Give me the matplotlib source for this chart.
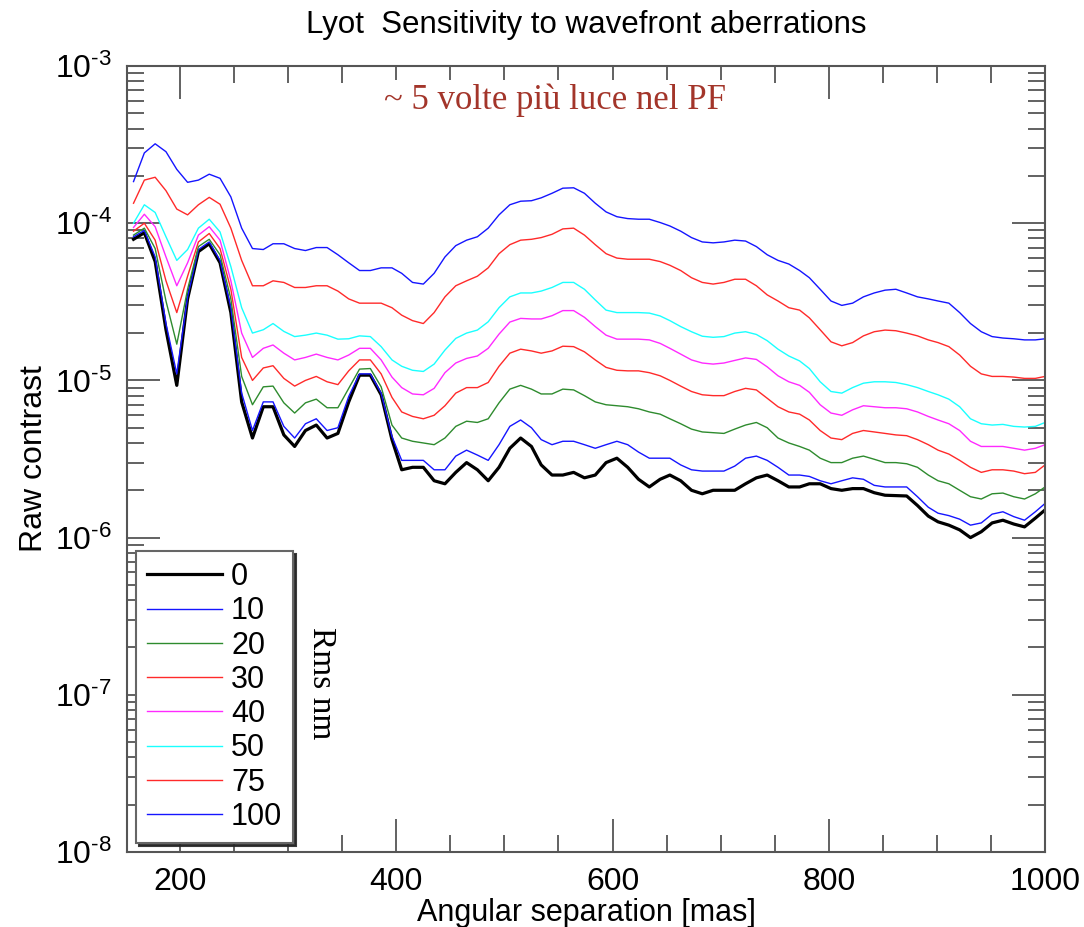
import matplotlib
matplotlib.use("Agg")
import math
import matplotlib.pyplot as plt
from matplotlib.ticker import MultipleLocator, LogLocator, NullFormatter, FuncFormatter

plt.rcParams['font.family'] = ['Liberation Sans', 'DejaVu Sans']
plt.rcParams['mathtext.fontset'] = 'custom'
plt.rcParams['mathtext.rm'] = 'Liberation Sans'
plt.rcParams['mathtext.default'] = 'regular'

# angular separation [mas]
sep = [157, 167, 177, 187, 197, 207, 217, 227, 237, 247,
       257, 267, 277, 286, 296, 306, 316, 326, 336, 346,
       356, 366, 376, 386, 396, 405, 415, 425, 435, 445,
       455, 465, 475, 485, 495, 505, 515, 525, 534, 544,
       554, 564, 574, 584, 594, 604, 614, 624, 634, 644,
       653, 663, 673, 683, 693, 703, 713, 723, 733, 743,
       753, 763, 773, 782, 792, 802, 812, 822, 832, 842,
       852, 862, 872, 882, 892, 901, 911, 921, 931, 941,
       951, 961, 971, 981, 991, 1000]

rms_labels = ["0", "10", "20", "30", "40", "50", "75", "100"]

rms0 = [7.9e-5, 8.7e-5, 5.7e-5, 2.1e-5, 9.3e-6, 3.3e-5, 6.6e-5, 7.4e-5, 5.6e-5, 2.7e-5,
        7.3e-6, 4.3e-6, 6.8e-6, 6.8e-6, 4.5e-6, 3.8e-6, 4.8e-6, 5.2e-6, 4.3e-6, 4.6e-6,
        7.3e-6, 1.08e-5, 1.08e-5, 8.1e-6, 4.2e-6, 2.7e-6, 2.8e-6, 2.8e-6, 2.3e-6, 2.2e-6,
        2.6e-6, 3.0e-6, 2.7e-6, 2.3e-6, 2.8e-6, 3.7e-6, 4.3e-6, 3.8e-6, 2.9e-6, 2.5e-6,
        2.5e-6, 2.6e-6, 2.4e-6, 2.5e-6, 3.0e-6, 3.2e-6, 2.8e-6, 2.35e-6, 2.1e-6, 2.35e-6,
        2.5e-6, 2.3e-6, 2.0e-6, 1.9e-6, 2.0e-6, 2.0e-6, 2.0e-6, 2.2e-6, 2.4e-6, 2.5e-6,
        2.3e-6, 2.1e-6, 2.1e-6, 2.2e-6, 2.2e-6, 2.05e-6, 2.0e-6, 2.05e-6, 2.05e-6, 1.93e-6,
        1.86e-6, 1.85e-6, 1.84e-6, 1.6e-6, 1.37e-6, 1.26e-6, 1.2e-6, 1.12e-6, 1.0e-6, 1.09e-6,
        1.24e-6, 1.29e-6, 1.22e-6, 1.17e-6, 1.33e-6, 1.5e-6]

rms10 = [8.2e-5, 9.0e-5, 6.1e-5, 2.3e-5, 1.1e-5, 3.4e-5, 6.8e-5, 7.6e-5, 5.8e-5, 2.9e-5,
         8.3e-6, 4.8e-6, 7.3e-6, 7.3e-6, 5.1e-6, 4.3e-6, 5.3e-6, 5.7e-6, 4.8e-6, 5.0e-6,
         7.9e-6, 1.1e-5, 1.1e-5, 8.3e-6, 4.4e-6, 3.1e-6, 3.1e-6, 3.1e-6, 2.7e-6, 2.7e-6,
         3.3e-6, 3.6e-6, 3.35e-6, 3.1e-6, 3.9e-6, 5.1e-6, 5.6e-6, 5.0e-6, 4.2e-6, 3.9e-6,
         4.1e-6, 4.1e-6, 3.9e-6, 3.7e-6, 3.9e-6, 4.1e-6, 3.9e-6, 3.5e-6, 3.2e-6, 3.2e-6,
         3.2e-6, 2.9e-6, 2.7e-6, 2.65e-6, 2.65e-6, 2.65e-6, 2.85e-6, 3.2e-6, 3.3e-6, 3.1e-6,
         2.8e-6, 2.5e-6, 2.5e-6, 2.45e-6, 2.3e-6, 2.2e-6, 2.3e-6, 2.4e-6, 2.35e-6, 2.15e-6,
         2.1e-6, 2.1e-6, 2.1e-6, 1.82e-6, 1.56e-6, 1.43e-6, 1.38e-6, 1.31e-6, 1.2e-6, 1.24e-6,
         1.41e-6, 1.46e-6, 1.36e-6, 1.29e-6, 1.46e-6, 1.65e-6]

rms20 = [8.4e-5, 9.3e-5, 6.9e-5, 3.2e-5, 1.7e-5, 3.8e-5, 7.1e-5, 7.9e-5, 6.3e-5, 3.3e-5,
         1.06e-5, 7.0e-6, 9.1e-6, 9.2e-6, 7.2e-6, 6.2e-6, 7.2e-6, 7.6e-6, 6.7e-6, 6.7e-6,
         8.9e-6, 1.18e-5, 1.19e-5, 9.1e-6, 5.2e-6, 4.3e-6, 4.1e-6, 4.0e-6, 3.9e-6, 4.3e-6,
         5.1e-6, 5.5e-6, 5.4e-6, 5.7e-6, 7.2e-6, 8.8e-6, 9.3e-6, 8.8e-6, 8.2e-6, 8.2e-6,
         8.8e-6, 8.7e-6, 8.0e-6, 7.3e-6, 7.0e-6, 6.9e-6, 6.8e-6, 6.6e-6, 6.3e-6, 6.1e-6,
         5.7e-6, 5.3e-6, 4.9e-6, 4.7e-6, 4.65e-6, 4.6e-6, 4.9e-6, 5.2e-6, 5.4e-6, 5.0e-6,
         4.3e-6, 4.0e-6, 3.8e-6, 3.6e-6, 3.2e-6, 3.0e-6, 3.0e-6, 3.2e-6, 3.3e-6, 3.15e-6,
         3.0e-6, 3.0e-6, 2.95e-6, 2.8e-6, 2.5e-6, 2.3e-6, 2.2e-6, 2.0e-6, 1.82e-6, 1.76e-6,
         1.9e-6, 1.92e-6, 1.82e-6, 1.76e-6, 1.9e-6, 2.1e-6]

rms30 = [8.9e-5, 1.0e-4, 7.8e-5, 4.3e-5, 2.7e-5, 4.6e-5, 7.6e-5, 8.6e-5, 6.9e-5, 3.8e-5,
         1.4e-5, 1.0e-5, 1.2e-5, 1.24e-5, 1.03e-5, 9.2e-6, 1.0e-5, 1.06e-5, 9.8e-6, 9.4e-6,
         1.15e-5, 1.35e-5, 1.35e-5, 1.1e-5, 7.8e-6, 6.3e-6, 5.9e-6, 5.7e-6, 6.0e-6, 6.9e-6,
         8.3e-6, 9.0e-6, 9.0e-6, 9.7e-6, 1.23e-5, 1.49e-5, 1.58e-5, 1.54e-5, 1.49e-5, 1.54e-5,
         1.65e-5, 1.64e-5, 1.52e-5, 1.35e-5, 1.21e-5, 1.16e-5, 1.15e-5, 1.15e-5, 1.12e-5, 1.07e-5,
         1.0e-5, 9.2e-6, 8.5e-6, 8.1e-6, 8.0e-6, 8.0e-6, 8.5e-6, 8.9e-6, 8.7e-6, 7.7e-6,
         6.8e-6, 6.3e-6, 6.1e-6, 5.6e-6, 4.8e-6, 4.3e-6, 4.2e-6, 4.6e-6, 4.8e-6, 4.7e-6,
         4.6e-6, 4.5e-6, 4.45e-6, 4.2e-6, 3.9e-6, 3.6e-6, 3.4e-6, 3.1e-6, 2.8e-6, 2.6e-6,
         2.7e-6, 2.7e-6, 2.65e-6, 2.55e-6, 2.6e-6, 2.9e-6]

rms40 = [9.4e-5, 1.14e-4, 9.5e-5, 6.1e-5, 4.0e-5, 5.6e-5, 8.4e-5, 9.5e-5, 7.8e-5, 4.3e-5,
         2.0e-5, 1.4e-5, 1.6e-5, 1.68e-5, 1.49e-5, 1.35e-5, 1.4e-5, 1.47e-5, 1.4e-5, 1.35e-5,
         1.45e-5, 1.6e-5, 1.6e-5, 1.35e-5, 1.05e-5, 9.0e-6, 8.2e-6, 8.1e-6, 8.9e-6, 1.12e-5,
         1.29e-5, 1.38e-5, 1.43e-5, 1.6e-5, 1.97e-5, 2.35e-5, 2.48e-5, 2.46e-5, 2.46e-5, 2.58e-5,
         2.78e-5, 2.78e-5, 2.52e-5, 2.2e-5, 1.94e-5, 1.83e-5, 1.83e-5, 1.83e-5, 1.81e-5, 1.72e-5,
         1.6e-5, 1.47e-5, 1.35e-5, 1.29e-5, 1.27e-5, 1.29e-5, 1.34e-5, 1.39e-5, 1.36e-5, 1.22e-5,
         1.07e-5, 9.8e-6, 9.3e-6, 8.4e-6, 7.0e-6, 6.2e-6, 6.0e-6, 6.5e-6, 6.9e-6, 6.8e-6,
         6.7e-6, 6.7e-6, 6.6e-6, 6.3e-6, 5.9e-6, 5.6e-6, 5.3e-6, 4.8e-6, 4.1e-6, 3.8e-6,
         3.8e-6, 3.8e-6, 3.7e-6, 3.6e-6, 3.7e-6, 3.9e-6]

rms50 = [1.0e-4, 1.31e-4, 1.17e-4, 8.2e-5, 5.8e-5, 6.8e-5, 9.3e-5, 1.06e-4, 8.8e-5, 5.3e-5,
         2.9e-5, 2.0e-5, 2.1e-5, 2.3e-5, 2.05e-5, 1.9e-5, 1.94e-5, 2.0e-5, 1.94e-5, 1.83e-5,
         1.84e-5, 1.92e-5, 1.9e-5, 1.64e-5, 1.35e-5, 1.23e-5, 1.16e-5, 1.14e-5, 1.27e-5, 1.56e-5,
         1.85e-5, 2.0e-5, 2.09e-5, 2.36e-5, 2.9e-5, 3.4e-5, 3.6e-5, 3.6e-5, 3.7e-5, 3.9e-5,
         4.2e-5, 4.2e-5, 3.8e-5, 3.25e-5, 2.8e-5, 2.7e-5, 2.7e-5, 2.7e-5, 2.68e-5, 2.57e-5,
         2.4e-5, 2.2e-5, 2.04e-5, 1.91e-5, 1.88e-5, 1.9e-5, 2.0e-5, 2.04e-5, 1.96e-5, 1.79e-5,
         1.58e-5, 1.43e-5, 1.33e-5, 1.19e-5, 9.8e-6, 8.5e-6, 8.3e-6, 9.0e-6, 9.6e-6, 9.8e-6,
         9.8e-6, 9.7e-6, 9.4e-6, 9.0e-6, 8.5e-6, 8.1e-6, 7.6e-6, 6.8e-6, 5.7e-6, 5.3e-6,
         5.2e-6, 5.25e-6, 5.1e-6, 5.05e-6, 5.1e-6, 5.4e-6]

rms75 = [1.34e-4, 1.88e-4, 1.96e-4, 1.61e-4, 1.23e-4, 1.13e-4, 1.31e-4, 1.46e-4, 1.32e-4, 9.3e-5,
         5.8e-5, 4.0e-5, 4.0e-5, 4.3e-5, 4.2e-5, 3.9e-5, 3.9e-5, 4.0e-5, 4.0e-5, 3.7e-5,
         3.3e-5, 3.1e-5, 3.1e-5, 3.1e-5, 2.9e-5, 2.6e-5, 2.4e-5, 2.3e-5, 2.7e-5, 3.4e-5,
         4.0e-5, 4.3e-5, 4.6e-5, 5.2e-5, 6.4e-5, 7.3e-5, 7.8e-5, 7.9e-5, 8.1e-5, 8.5e-5,
         9.2e-5, 9.3e-5, 8.4e-5, 7.3e-5, 6.4e-5, 6.0e-5, 5.9e-5, 5.9e-5, 5.9e-5, 5.7e-5,
         5.4e-5, 5.0e-5, 4.5e-5, 4.2e-5, 4.1e-5, 4.2e-5, 4.4e-5, 4.4e-5, 4.0e-5, 3.5e-5,
         3.2e-5, 2.9e-5, 2.8e-5, 2.5e-5, 2.1e-5, 1.76e-5, 1.66e-5, 1.74e-5, 1.92e-5, 2.04e-5,
         2.09e-5, 2.07e-5, 2.0e-5, 1.92e-5, 1.81e-5, 1.74e-5, 1.64e-5, 1.45e-5, 1.23e-5, 1.1e-5,
         1.06e-5, 1.06e-5, 1.05e-5, 1.03e-5, 1.03e-5, 1.06e-5]

rms100 = [1.84e-4, 2.8e-4, 3.2e-4, 2.85e-4, 2.2e-4, 1.82e-4, 1.88e-4, 2.05e-4, 1.93e-4, 1.47e-4,
          9.3e-5, 6.9e-5, 6.8e-5, 7.4e-5, 7.4e-5, 6.9e-5, 6.7e-5, 7.0e-5, 7.0e-5, 6.3e-5,
          5.6e-5, 5.0e-5, 5.0e-5, 5.2e-5, 5.2e-5, 4.8e-5, 4.2e-5, 4.1e-5, 4.8e-5, 6.1e-5,
          7.2e-5, 7.8e-5, 8.2e-5, 9.3e-5, 1.13e-4, 1.31e-4, 1.38e-4, 1.39e-4, 1.45e-4, 1.55e-4,
          1.67e-4, 1.68e-4, 1.55e-4, 1.34e-4, 1.18e-4, 1.1e-4, 1.07e-4, 1.06e-4, 1.06e-4, 1.01e-4,
          9.6e-5, 8.9e-5, 8.1e-5, 7.6e-5, 7.5e-5, 7.6e-5, 7.8e-5, 7.7e-5, 7.1e-5, 6.3e-5,
          5.8e-5, 5.5e-5, 5.0e-5, 4.5e-5, 3.8e-5, 3.2e-5, 3.0e-5, 3.1e-5, 3.4e-5, 3.6e-5,
          3.75e-5, 3.8e-5, 3.6e-5, 3.4e-5, 3.3e-5, 3.2e-5, 3.1e-5, 2.7e-5, 2.3e-5, 2.04e-5,
          1.9e-5, 1.86e-5, 1.84e-5, 1.81e-5, 1.81e-5, 1.84e-5]

series = [rms0, rms10, rms20, rms30, rms40, rms50, rms75, rms100]
colors = ["black", "#1515ff", "#2e8b2e", "#ff2a2a", "#ff2aff", "#1affff", "#ff2a2a", "#1515ff"]
widths = [2.3, 1.0, 1.0, 1.0, 1.0, 1.0, 1.0, 1.0]

fig = plt.figure(figsize=(10.84, 9.27), dpi=100)
ax = fig.add_axes([0.1172, 0.0809, 0.8469, 0.8479])

for vals, lab, c, w in zip(series, rms_labels, colors, widths):
    ax.plot(sep, vals, color=c, lw=w, label=lab)

ax.set_yscale("log")
ax.set_xlim(151, 1000)
ax.set_ylim(1e-8, 1e-3)

ax.xaxis.set_major_locator(MultipleLocator(200))
ax.xaxis.set_minor_locator(MultipleLocator(50))
ax.yaxis.set_major_locator(LogLocator(base=10, numticks=10))
ax.yaxis.set_minor_locator(LogLocator(base=10, subs=range(2, 10), numticks=20))
ax.yaxis.set_minor_formatter(NullFormatter())
# IDL-style exponent with a short hyphen
ax.yaxis.set_major_formatter(FuncFormatter(
    lambda v, p: r"$10^{\text{-}%d}$" % round(-math.log10(v))))

gray = "#555555"
for s in ax.spines.values():
    s.set_color(gray)
    s.set_linewidth(1.5)
ax.tick_params(which="both", direction="in", top=True, right=True, color=gray, width=1.3)
ax.tick_params(which="major", length=24, labelsize=23, pad=11)
ax.tick_params(which="minor", length=12)

ax.set_xlabel("Angular separation [mas]", fontsize=22)
ax.set_ylabel("Raw contrast", fontsize=23)
ax.xaxis.set_label_coords(0.5, -0.0585)
ax.yaxis.set_label_coords(-0.085, 0.5)
ax.set_title("Lyot  Sensitivity to wavefront aberrations", fontsize=22.5, pad=24)

ax.text(0.466, 0.957, "~ 5 volte più luce nel PF", transform=ax.transAxes,
        ha="center", va="center", fontsize=25, family="Liberation Serif",
        color="#a3352a", bbox=dict(facecolor="white", edgecolor="none", pad=2), zorder=5)
ax.text(0.212, 0.215, "Rms nm", transform=ax.transAxes, rotation=270,
        ha="center", va="center", fontsize=24, family="Liberation Serif", color="black")

leg = ax.legend(loc="lower left", bbox_to_anchor=(0.0098, 0.0115), borderaxespad=0,
                fontsize=22, handlelength=2.45, handletextpad=0.3, labelspacing=0.14,
                borderpad=0.36, fancybox=False, framealpha=1,
                shadow={"color": "0.15", "alpha": 0.9})
leg.get_frame().set_edgecolor("#666666")
leg.get_frame().set_linewidth(1.5)

fig.savefig("out.png", dpi=100)
